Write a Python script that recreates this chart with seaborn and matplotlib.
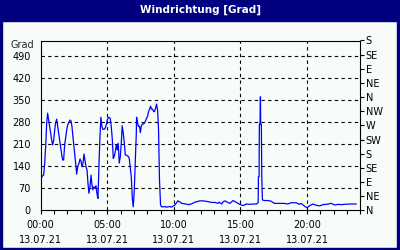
import matplotlib
matplotlib.use("Agg")
import matplotlib.pyplot as plt
from matplotlib.patches import Rectangle
import matplotlib.transforms as mtransforms
import seaborn as sns
import pandas as pd

# ---- data (hours since 00:00 on 13.07.21, wind direction in degrees) ----
hours = [0.00, 0.08, 0.22, 0.30, 0.38, 0.45, 0.52, 0.60, 0.68, 0.75, 0.82, 0.90, 0.98,
         1.05, 1.12, 1.20, 1.28, 1.35, 1.42, 1.50, 1.58, 1.65, 1.72, 1.80, 1.88, 1.95,
         2.02, 2.10, 2.20, 2.28, 2.35, 2.42, 2.50, 2.58, 2.65, 2.70, 2.78, 2.88, 2.95,
         3.02, 3.10, 3.18, 3.25, 3.32, 3.40, 3.48, 3.55, 3.62, 3.70, 3.78, 3.85, 3.92,
         4.00, 4.08, 4.15, 4.22, 4.30, 4.38, 4.45, 4.52, 4.60, 4.68, 4.78, 4.85, 4.92,
         5.00, 5.08, 5.22, 5.30, 5.38, 5.45, 5.52, 5.60, 5.68, 5.75, 5.82, 5.90, 5.98,
         6.05, 6.12, 6.20, 6.28, 6.35, 6.45, 6.58, 6.65, 6.72, 6.80, 6.88, 6.95, 7.02,
         7.10, 7.18, 7.20, 7.28, 7.35, 7.42, 7.48, 7.55, 7.62, 7.70, 7.78, 7.85, 7.95,
         8.02, 8.10, 8.18, 8.25, 8.32, 8.40, 8.48, 8.55, 8.62, 8.70, 8.78, 8.85, 8.92,
         9.00, 9.08, 9.20, 9.32, 9.45, 9.58, 9.70, 9.82, 9.95,
         10.05, 10.20, 10.30, 10.45, 10.60, 10.90, 11.10, 11.30, 11.60, 11.95, 12.20,
         12.50, 12.85, 13.10, 13.30, 13.40, 13.60, 13.70, 13.85, 14.00, 14.20, 14.45,
         14.70, 14.95, 15.20, 15.45, 15.70, 15.95, 16.20, 16.33, 16.35, 16.40, 16.42,
         16.47, 16.50, 16.52, 16.57, 16.60, 16.65, 16.80, 17.05, 17.30, 17.55, 17.90,
         18.30, 18.55, 18.80, 19.20, 19.40, 19.57, 19.75, 20.00, 20.20, 20.45, 20.70,
         20.95, 21.20, 21.45, 21.82, 22.07, 22.32, 22.57, 22.82, 23.20, 23.70]
degrees = [91, 107, 112, 150, 208, 277, 309, 287, 266, 245, 224, 208, 224,
           255, 277, 290, 266, 245, 224, 202, 176, 160, 160, 208, 234, 255,
           271, 278, 287, 284, 266, 234, 202, 167, 139, 115, 139, 150, 163,
           158, 139, 150, 179, 160, 139, 128, 86, 54, 75, 112, 80, 65,
           75, 70, 78, 54, 38, 150, 234, 296, 266, 257, 258, 262, 271,
           287, 296, 293, 266, 224, 165, 171, 187, 208, 192, 213, 150, 171,
           213, 269, 245, 213, 176, 175, 171, 165, 139, 107, 38, 11, 58,
           155, 245, 296, 277, 266, 268, 247, 266, 274, 274, 277, 282, 293,
           298, 314, 322, 331, 322, 322, 314, 314, 324, 338, 318, 255, 96,
           17, 11, 11, 12, 10, 11, 12, 10, 14,
           15, 24, 30, 27, 22, 20, 18, 20, 26, 30, 30,
           28, 25, 25, 22, 26, 20, 27, 30, 26, 22, 31,
           25, 19, 15, 20, 19, 20, 20, 24, 107, 107, 273,
           273, 361, 273, 273, 110, 33, 31, 31, 29, 22, 22,
           22, 20, 24, 24, 19, 22, 15, 8, 15, 20, 16,
           14, 18, 19, 22, 17, 19, 18, 19, 20, 20]

left_ticks = [0, 70, 140, 210, 280, 350, 420, 490]
right_ticks = [0, 45, 90, 135, 180, 225, 270, 315, 360, 405, 450, 495, 540]
right_labels = ["N", "NE", "E", "SE", "S", "SW", "W", "NW", "N", "NE", "E", "SE", "S"]
x_ticks = [0, 5, 10, 15, 20]
x_labels = ["00:00\n13.07.21", "05:00\n13.07.21", "10:00\n13.07.21",
            "15:00\n13.07.21", "20:00\n13.07.21"]
title = "Windrichtung [Grad]"
unit_label = "Grad"

# ---- style ----
sns.set_style("white")
plt.rcParams["font.family"] = ["DejaVu Sans"]
bg = "#f8fcf8"
navy = "#000080"

df = pd.DataFrame({"hour": hours, "deg": degrees})

fig = plt.figure(figsize=(4, 2.5), dpi=100, facecolor=bg)
ax = fig.add_axes([40.7 / 400, 1 - 210.3 / 250, 319.6 / 400, 169.8 / 250])
ax.set_facecolor(bg)

sns.lineplot(data=df, x="hour", y="deg", ax=ax, color="#0000ff", linewidth=0.9,
             estimator=None, sort=False)

ax.set_xlim(0, 24)
ax.set_ylim(0, 540)
ax.set_xlabel("")
ax.set_ylabel("")

# grid
for v in left_ticks[1:]:
    ax.axhline(v, color="black", lw=0.8, ls=(0, (3, 3)), zorder=0.5)
for h in x_ticks[1:]:
    ax.axvline(h, color="black", lw=0.8, ls=(0, (3, 3)), zorder=0.5)

for s in ax.spines.values():
    s.set_color("black")
    s.set_linewidth(0.8)

ax.set_yticks(left_ticks)
ax.set_yticklabels([str(v) for v in left_ticks])
ax.tick_params(axis="y", which="both", length=0, pad=7, labelsize=7, colors="black")

ax.set_xticks(x_ticks)
ax.set_xticklabels(x_labels, linespacing=1.65)
ax.set_xticks(range(0, 25), minor=True)
ax.tick_params(axis="x", which="both", direction="out", length=3, width=0.8,
               pad=4, labelsize=7, colors="black", bottom=True)

ax.text(-7 / 319.6, 526, unit_label, fontsize=7, ha="right", va="center",
        transform=mtransforms.blended_transform_factory(ax.transAxes, ax.transData))

ax2 = ax.twinx()
ax2.set_ylim(0, 540)
ax2.set_yticks(right_ticks)
ax2.set_yticklabels(right_labels)
ax2.tick_params(axis="y", direction="out", length=3, width=0.8, pad=1,
                labelsize=7, colors="black")
for s in ax2.spines.values():
    s.set_visible(False)

# frame and title bar
fig.patches.append(Rectangle((0, 1 - 20.5 / 250), 1, 20.5 / 250,
                             transform=fig.transFigure, color=navy, zorder=-1))
fig.patches.append(Rectangle((0, 0), 2 / 400, 1, transform=fig.transFigure,
                             color=navy, zorder=-1))
fig.patches.append(Rectangle((1 - 3 / 400, 0), 3 / 400, 1, transform=fig.transFigure,
                             color=navy, zorder=-1))
fig.patches.append(Rectangle((0, 0), 1, 2 / 250, transform=fig.transFigure,
                             color=navy, zorder=-1))
fig.text(0.5, 1 - 9.5 / 250, title, color="white", fontsize=7.5, fontweight="bold",
         ha="center", va="center")

fig.savefig("out.png", dpi=100, facecolor=bg)
